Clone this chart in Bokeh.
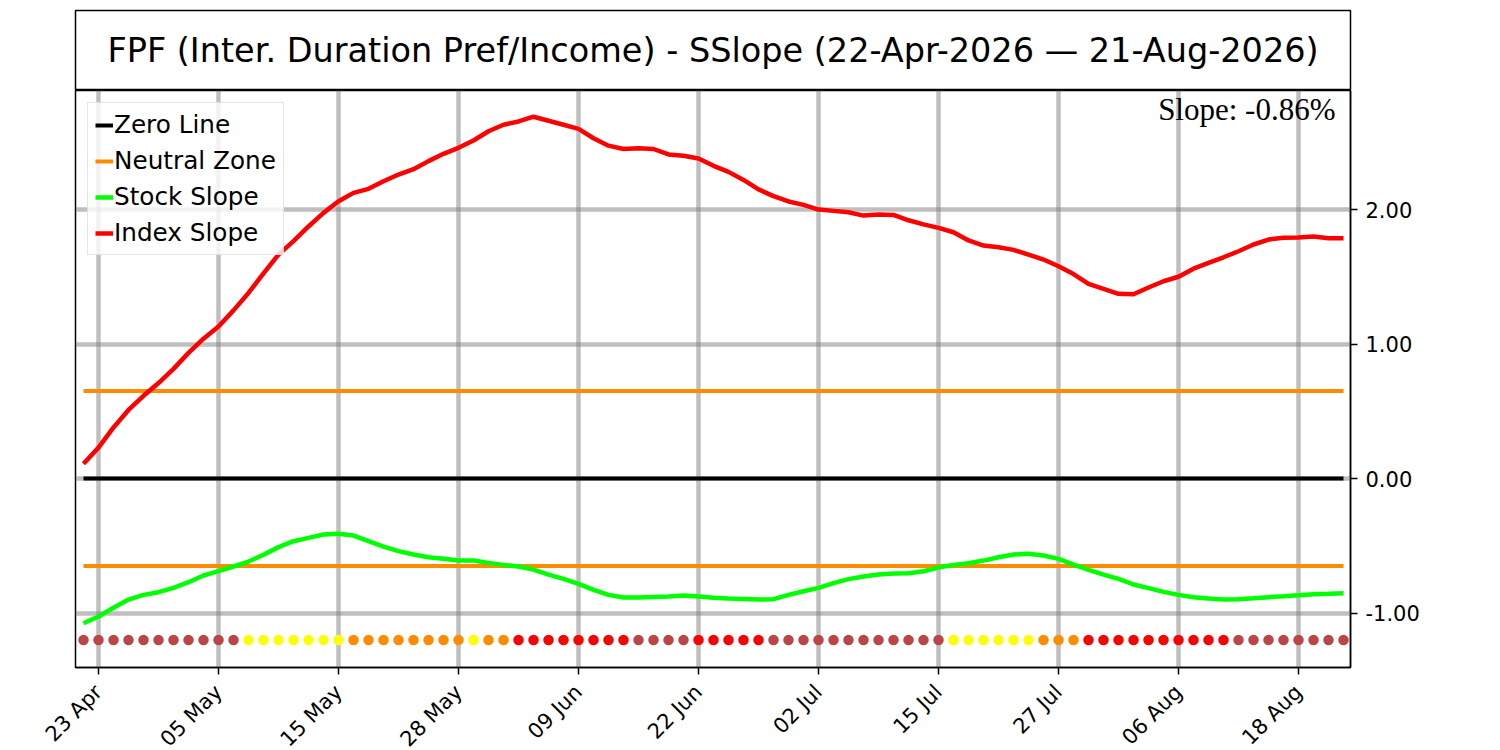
from bokeh.plotting import figure
from bokeh.models import Range1d, FixedTicker, NumeralTickFormatter, Legend, LegendItem, Label
from bokeh.layouts import column
from bokeh.embed import file_html
from bokeh.resources import INLINE
from bokeh.core.properties import value
import math

# ---------------- data ----------------
title_text = "FPF (Inter. Duration Pref/Income) - SSlope (22-Apr-2026 \u2014 21-Aug-2026)"

index_slope = [
    0.11, 0.23, 0.38, 0.51, 0.615, 0.71, 0.815, 0.934, 1.04, 1.13,
    1.25, 1.38, 1.525, 1.665, 1.765, 1.874, 1.975, 2.062, 2.124, 2.154,
    2.21, 2.26, 2.30, 2.36, 2.414, 2.459, 2.513, 2.582, 2.63, 2.655,
    2.69, 2.66, 2.63, 2.60, 2.53, 2.475, 2.45, 2.455, 2.45, 2.41,
    2.40, 2.38, 2.325, 2.28, 2.22, 2.15, 2.10, 2.06, 2.035, 2.00,
    1.99, 1.98, 1.955, 1.963, 1.96, 1.92, 1.89, 1.864, 1.831, 1.77,
    1.732, 1.72, 1.70, 1.665, 1.628, 1.578, 1.52, 1.447, 1.41, 1.373,
    1.37, 1.42, 1.467, 1.50, 1.56, 1.604, 1.645, 1.69, 1.74, 1.777,
    1.79, 1.792, 1.80, 1.787, 1.787,
]

stock_slope = [
    -1.076, -1.026, -0.961, -0.90, -0.865, -0.845, -0.813, -0.771, -0.721, -0.689,
    -0.654, -0.617, -0.567, -0.51, -0.466, -0.441, -0.416, -0.411, -0.424, -0.466,
    -0.506, -0.54, -0.565, -0.585, -0.597, -0.61, -0.61, -0.627, -0.642, -0.654,
    -0.677, -0.714, -0.746, -0.783, -0.828, -0.865, -0.885, -0.885, -0.88, -0.877,
    -0.87, -0.877, -0.887, -0.892, -0.895, -0.90, -0.897, -0.865, -0.838, -0.813,
    -0.778, -0.748, -0.729, -0.714, -0.706, -0.704, -0.689, -0.662, -0.642, -0.63,
    -0.61, -0.585, -0.565, -0.56, -0.572, -0.597, -0.64, -0.679, -0.714, -0.746,
    -0.788, -0.815, -0.843, -0.865, -0.882, -0.892, -0.90, -0.897, -0.89, -0.882,
    -0.875, -0.867, -0.86, -0.857, -0.853,
]

# signal state per day: B = weak/brown, Y = yellow, O = orange, R = red
signal_codes = list(
    "BBBBBBBBBBB" "YYYYYYY" "OOOOOOOO" "Y" "OO" "RRRRRRRR" "BBBB" "RRRRR"
    "BBBBBBBBBBBB" "YYYYYY" "OOO" "RRRRRRRRRR" "BBBBBBBB"
)
signal_colors = {"B": "#BA4747", "Y": "#FFFF00", "O": "#FF8C00", "R": "#FF0000"}

tick_positions = [1, 9, 17, 25, 33, 41, 49, 57, 65, 73, 81]
tick_labels = ["23 Apr", "05 May", "15 May", "28 May", "09 Jun", "22 Jun",
               "02 Jul", "15 Jul", "27 Jul", "06 Aug", "18 Aug"]
y_ticks = [-1.0, 0.0, 1.0, 2.0]

zero_level = 0.0
neutral_level = 0.65
signal_level = -1.2
slope_value = -0.86

n = len(index_slope)
idx = list(range(n))
dot_colors = [signal_colors[c] for c in signal_codes]

# ---------------- layout constants ----------------
FRAME_W = 1275
LEFT = 75
RIGHT = 100

# ---------------- title box ----------------
t = figure(frame_width=FRAME_W, frame_height=80,
           x_range=Range1d(0, 1), y_range=Range1d(0, 1),
           x_axis_location=None, y_axis_location=None,
           min_border_left=LEFT, min_border_right=RIGHT,
           min_border_top=10, min_border_bottom=0,
           toolbar_location=None, output_backend="svg")
t.grid.grid_line_color = None
t.outline_line_color = "black"
t.outline_line_width = 1.5
t.text(x=[0.5], y=[0.5], text=[title_text], text_align="center",
       text_baseline="middle", text_font=value("DejaVu Sans"),
       text_font_size="33.5px", text_color="black")

# ---------------- main plot ----------------
x_lo, x_hi = -0.533, 84.467
y_lo, y_hi = -1.405, 2.885
p = figure(frame_width=FRAME_W, frame_height=577,
           x_range=Range1d(x_lo, x_hi), y_range=Range1d(y_lo, y_hi),
           y_axis_location="right",
           min_border_left=LEFT, min_border_right=RIGHT,
           min_border_top=0, min_border_bottom=0,
           toolbar_location=None, output_backend="svg")
p.outline_line_color = "black"
p.outline_line_width = 1.5

p.xaxis.ticker = FixedTicker(ticks=tick_positions)
p.xaxis.major_label_overrides = {k: v for k, v in zip(tick_positions, tick_labels)}
p.xaxis.major_label_orientation = math.pi / 4
p.yaxis.ticker = FixedTicker(ticks=y_ticks)
p.yaxis.formatter = NumeralTickFormatter(format="0.00")
for ax in (p.xaxis, p.yaxis):
    ax.major_label_text_font = "DejaVu Sans"
    ax.major_label_text_color = "black"
    ax.major_tick_in = 0
    ax.major_tick_out = 7
    ax.major_tick_line_width = 1.5
    ax.major_tick_line_color = "black"
    ax.minor_tick_line_color = None
    ax.axis_line_color = "black"
    ax.axis_line_width = 1.5
    ax.major_label_standoff = 8
p.yaxis.major_label_text_font_size = "21px"
p.xaxis.major_label_text_font_size = "21px"
p.xaxis.major_label_standoff = 14

p.grid.grid_line_color = "#808080"
p.grid.grid_line_alpha = 0.5
p.grid.grid_line_width = 4.5

span_x = [idx[0], idx[-1]]
zero_r = p.line(span_x, [zero_level] * 2, line_color="black", line_width=4)
neu_r = p.line(span_x, [neutral_level] * 2, line_color="#FF8C00", line_width=4)
p.line(span_x, [-neutral_level] * 2, line_color="#FF8C00", line_width=4)
stock_r = p.line(idx, stock_slope, line_color="#00FF00", line_width=4.5)
index_r = p.line(idx, index_slope, line_color="#FF0000", line_width=4.5)
p.scatter(idx, [signal_level] * n, size=10.5, fill_color=dot_colors, line_color=None)

legend = Legend(items=[
    LegendItem(label="Zero Line", renderers=[zero_r]),
    LegendItem(label="Neutral Zone", renderers=[neu_r]),
    LegendItem(label="Stock Slope", renderers=[stock_r]),
    LegendItem(label="Index Slope", renderers=[index_r]),
], location="top_left")
legend.label_text_font = "DejaVu Sans"
legend.label_text_font_size = "24.7px"
legend.label_text_color = "black"
legend.glyph_width = 18
legend.glyph_height = 28
legend.label_height = 28
legend.label_standoff = 1
legend.spacing = 7
legend.padding = 7
legend.margin = 12
legend.border_line_color = "#CCCCCC"
legend.border_line_width = 1.5
legend.background_fill_alpha = 0.8
p.add_layout(legend)

slope_label = Label(x=x_hi - 1.0, y=y_hi - 0.14, text=f"Slope: {slope_value:.2f}%",
                    text_font="Liberation Serif", text_font_size="31px",
                    text_align="right", text_baseline="alphabetic", text_color="black")
p.add_layout(slope_label)

layout = column(t, p)
open("out.html", "w").write(file_html(layout, INLINE))
